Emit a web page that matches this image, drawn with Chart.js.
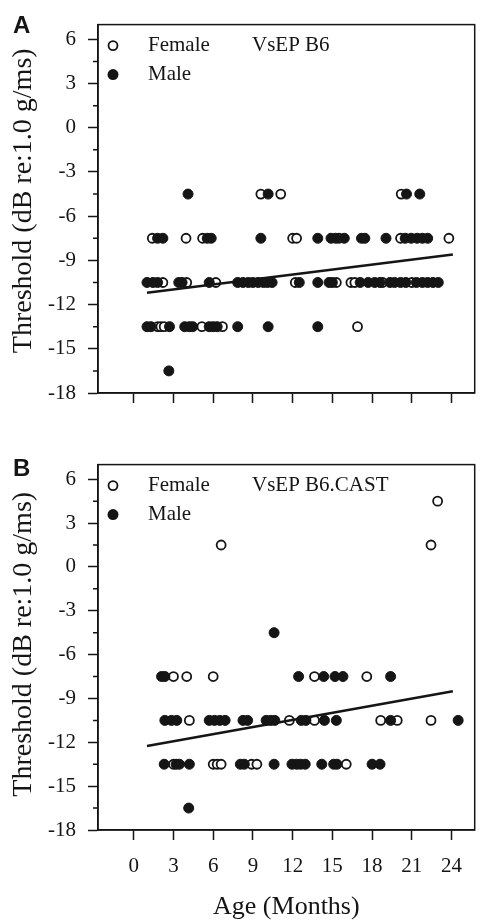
<!DOCTYPE html>
<html>
<head>
<meta charset="utf-8">
<title>VsEP thresholds by age</title>
<script src="https://cdn.jsdelivr.net/npm/chart.js@4.4.0/dist/chart.umd.min.js"></script>
<style>
  html, body { margin: 0; padding: 0; background: #fff; }
  #wrap { position: relative; width: 481px; height: 923px; }
  canvas { position: absolute; left: 0; }
  #chartA { top: 0; }
  #chartB { top: 440px; }
</style>
</head>
<body>
<div id="wrap">
  <canvas id="chartA" width="481" height="440"></canvas>
  <canvas id="chartB" width="481" height="483"></canvas>
</div>
<script>
// [age in months, threshold in dB re:1.0 g/ms], one line per threshold row
const b6Female = [
  [9.6, -4.5], [11.1, -4.5], [20.2, -4.5],
  [1.4, -7.5], [3.95, -7.5], [5.2, -7.5], [12.0, -7.5], [12.3, -7.5], [15.5, -7.5], [20.15, -7.5], [23.8, -7.5],
  [2.2, -10.5], [4.0, -10.5], [6.2, -10.5], [12.2, -10.5], [15.3, -10.5], [16.4, -10.5], [16.7, -10.5], [18.8, -10.5], [21.0, -10.5],
  [1.8, -13.5], [2.05, -13.5], [2.3, -13.5], [5.15, -13.5], [6.7, -13.5], [16.9, -13.5]
];
const b6Male = [
  [4.1, -4.5], [10.15, -4.5], [20.6, -4.5], [21.6, -4.5],
  [1.8, -7.5], [2.2, -7.5], [5.55, -7.5], [5.85, -7.5], [9.6, -7.5], [13.9, -7.5], [14.9, -7.5], [15.25, -7.5], [15.9, -7.5],
  [17.2, -7.5], [17.45, -7.5], [19.05, -7.5], [20.5, -7.5], [20.95, -7.5], [21.4, -7.5], [21.8, -7.5], [22.2, -7.5],
  [1.0, -10.5], [1.45, -10.5], [1.8, -10.5], [3.4, -10.5], [3.65, -10.5], [5.7, -10.5], [7.85, -10.5], [8.25, -10.5],
  [8.65, -10.5], [9.0, -10.5], [9.4, -10.5], [9.8, -10.5], [10.1, -10.5], [10.45, -10.5], [12.5, -10.5], [13.9, -10.5],
  [14.75, -10.5], [15.0, -10.5], [17.1, -10.5], [17.7, -10.5], [18.2, -10.5], [18.6, -10.5], [19.35, -10.5], [19.7, -10.5],
  [20.15, -10.5], [20.55, -10.5], [21.35, -10.5], [21.8, -10.5], [22.2, -10.5], [22.6, -10.5], [23.0, -10.5],
  [1.0, -13.5], [1.3, -13.5], [2.7, -13.5], [3.85, -13.5], [4.2, -13.5], [4.45, -13.5], [5.7, -13.5], [6.0, -13.5],
  [6.3, -13.5], [7.85, -13.5], [10.15, -13.5], [13.9, -13.5],
  [2.65, -16.5]
];
const b6Trend = [[1.0, -11.2], [24.1, -8.6]];

const castFemale = [
  [22.95, 4.5],
  [6.6, 1.5], [22.45, 1.5],
  [3.0, -7.5], [4.0, -7.5], [6.0, -7.5], [13.65, -7.5], [17.6, -7.5],
  [4.2, -10.5], [11.75, -10.5], [13.65, -10.5], [18.65, -10.5], [19.9, -10.5], [22.45, -10.5],
  [3.0, -13.5], [6.0, -13.5], [6.3, -13.5], [6.6, -13.5], [8.9, -13.5], [9.3, -13.5], [16.05, -13.5]
];
const castMale = [
  [10.6, -4.5],
  [2.1, -7.5], [2.35, -7.5], [12.45, -7.5], [14.35, -7.5], [15.2, -7.5], [15.8, -7.5], [19.4, -7.5],
  [2.35, -10.5], [2.85, -10.5], [3.25, -10.5], [5.7, -10.5], [6.1, -10.5], [6.5, -10.5], [6.9, -10.5], [8.25, -10.5],
  [8.6, -10.5], [10.0, -10.5], [10.35, -10.5], [10.65, -10.5], [12.65, -10.5], [13.0, -10.5], [14.4, -10.5],
  [15.3, -10.5], [19.4, -10.5], [24.5, -10.5],
  [2.3, -13.5], [3.2, -13.5], [3.45, -13.5], [4.2, -13.5], [8.05, -13.5], [8.35, -13.5], [10.6, -13.5], [11.95, -13.5],
  [12.3, -13.5], [12.6, -13.5], [12.95, -13.5], [14.2, -13.5], [15.1, -13.5], [15.35, -13.5], [18.0, -13.5], [18.6, -13.5],
  [4.15, -16.5]
];
const castTrend = [[1.0, -12.25], [24.1, -8.5]];

const ageTicks = [0, 3, 6, 9, 12, 15, 18, 21, 24];
const thresholdTicks = [-18, -16.5, -15, -13.5, -12, -10.5, -9, -7.5, -6, -4.5, -3, -1.5, 0, 1.5, 3, 4.5, 6];

const INK = '#151515';
const SERIF = '"Liberation Serif", "Times New Roman", serif';
Chart.defaults.font.family = SERIF;
Chart.defaults.font.size = 21;
Chart.defaults.color = INK;

const toPoints = rows => rows.map(r => ({ x: r[0], y: r[1] }));

// frame, minor ticks, in-plot legend, panel letter and the side title
const panelDecor = {
  id: 'panelDecor',
  afterDraw(chart, args, o) {
    const { ctx, chartArea: a } = chart;
    const yScale = chart.scales.y;
    ctx.save();
    ctx.strokeStyle = INK;
    ctx.lineWidth = 1.5;
    ctx.strokeRect(a.left, a.top, a.right - a.left, a.bottom - a.top);

    ctx.beginPath();
    thresholdTicks.filter(v => v % 3 !== 0).forEach(v => {
      const py = yScale.getPixelForValue(v);
      ctx.moveTo(a.left - 5, py);
      ctx.lineTo(a.left, py);
    });
    ctx.stroke();

    // legend
    const lx = a.left + 15, ly1 = a.top + 21, ly2 = a.top + 50;
    ctx.fillStyle = '#fff';
    ctx.lineWidth = 1.8;
    ctx.beginPath(); ctx.arc(lx, ly1, 4.5, 0, Math.PI * 2); ctx.fill(); ctx.stroke();
    ctx.fillStyle = INK;
    ctx.beginPath(); ctx.arc(lx, ly2, 5.5, 0, Math.PI * 2); ctx.fill();
    ctx.font = '21px ' + SERIF;
    ctx.textBaseline = 'middle';
    ctx.textAlign = 'left';
    ctx.fillText('Female', a.left + 50, ly1);
    ctx.fillText('Male', a.left + 50, ly2);
    ctx.fillText(o.name, a.left + 154, ly1);

    ctx.font = 'bold 24px "Liberation Sans", Arial, sans-serif';
    ctx.textBaseline = 'alphabetic';
    ctx.fillText(o.letter, 13, o.letterY);

    ctx.translate(31, (a.top + a.bottom) / 2 + o.titleShift);
    ctx.rotate(-Math.PI / 2);
    ctx.font = '28px ' + SERIF;
    ctx.textAlign = 'center';
    ctx.fillText('Threshold (dB re:1.0 g/ms)', 0, 0);
    ctx.restore();
  }
};

function makePanel(id, cfg) {
  return new Chart(document.getElementById(id), {
    type: 'scatter',
    data: {
      datasets: [
        {
          label: 'Fit',
          data: toPoints(cfg.trend),
          showLine: true,
          borderColor: INK,
          borderWidth: 2.5,
          pointRadius: 0,
          order: 0
        },
        {
          label: 'Male',
          data: toPoints(cfg.male),
          backgroundColor: INK,
          borderColor: INK,
          borderWidth: 1,
          pointRadius: 5,
          order: 1
        },
        {
          label: 'Female',
          data: toPoints(cfg.female),
          backgroundColor: '#fff',
          borderColor: INK,
          borderWidth: 1.8,
          pointRadius: 4.5,
          order: 2
        }
      ]
    },
    options: {
      responsive: false,
      animation: false,
      events: [],
      layout: { padding: { top: cfg.padTop, right: 2, bottom: 0, left: 0 } },
      plugins: {
        legend: { display: false },
        tooltip: { enabled: false },
        panelDecor: { name: cfg.name, letter: cfg.letter, letterY: cfg.letterY, titleShift: cfg.titleShift }
      },
      scales: {
        x: {
          type: 'linear',
          min: -2.7,
          max: 25.75,
          afterBuildTicks: s => { s.ticks = ageTicks.map(v => ({ value: v })); },
          afterFit: s => { s.height = cfg.xHeight; },
          border: { color: INK, width: 1.5 },
          grid: { drawOnChartArea: false, tickLength: 10, tickColor: INK, tickWidth: 1.5 },
          ticks: {
            autoSkip: false,
            maxRotation: 0,
            padding: 14,
            callback: v => cfg.ageLabels ? String(v) : ''
          },
          title: {
            display: cfg.ageLabels,
            text: 'Age (Months)',
            font: { size: 26 },
            padding: 0
          }
        },
        y: {
          min: -18,
          max: 7,
          afterBuildTicks: s => { s.ticks = thresholdTicks.map(v => ({ value: v })); },
          afterFit: s => { s.width = 98; },
          border: { color: INK, width: 1.5 },
          grid: {
            drawOnChartArea: false,
            tickLength: 10,
            tickWidth: 1.5,
            tickColor: c => (c.tick && c.tick.value % 3 === 0) ? INK : 'rgba(0,0,0,0)'
          },
          ticks: {
            autoSkip: false,
            padding: 12,
            callback: v => v % 3 === 0 ? String(v) : ''
          }
        }
      }
    },
    plugins: [panelDecor]
  });
}

makePanel('chartA', {
  female: b6Female, male: b6Male, trend: b6Trend,
  name: 'VsEP B6', letter: 'A', letterY: 33, titleShift: -8,
  padTop: 9, xHeight: 47, ageLabels: false
});
makePanel('chartB', {
  female: castFemale, male: castMale, trend: castTrend,
  name: 'VsEP B6.CAST', letter: 'B', letterY: 36, titleShift: -3,
  padTop: 7, xHeight: 93, ageLabels: true
});
</script>
</body>
</html>
